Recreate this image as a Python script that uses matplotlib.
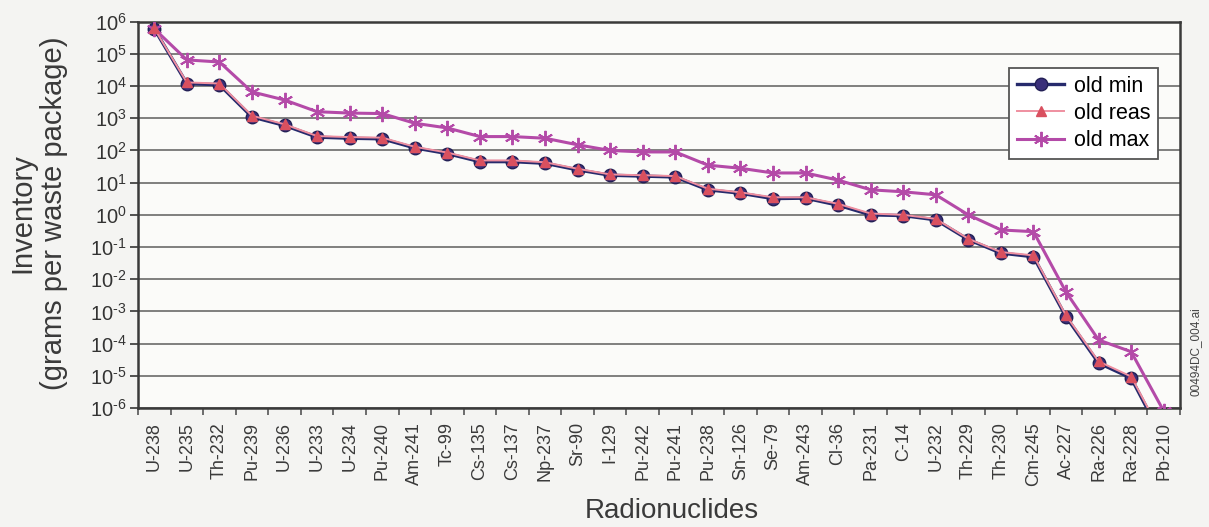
import numpy as np
import matplotlib
matplotlib.use("Agg")
import matplotlib.pyplot as plt
from matplotlib.ticker import FixedLocator, NullFormatter

plt.rcParams['font.family'] = ['Liberation Sans', 'DejaVu Sans']
plt.rcParams['mathtext.fontset'] = 'custom'
plt.rcParams['mathtext.rm'] = 'Liberation Sans'
plt.rcParams['mathtext.it'] = 'Liberation Sans'

nuclides = ["U-238", "U-235", "Th-232", "Pu-239", "U-236", "U-233", "U-234", "Pu-240",
            "Am-241", "Tc-99", "Cs-135", "Cs-137", "Np-237", "Sr-90", "I-129", "Pu-242",
            "Pu-241", "Pu-238", "Sn-126", "Se-79", "Am-243", "Cl-36", "Pa-231", "C-14",
            "U-232", "Th-229", "Th-230", "Cm-245", "Ac-227", "Ra-226", "Ra-228", "Pb-210"]

old_min = [6.0e5, 1.2e4, 1.1e4, 1.1e3, 6.0e2, 2.6e2, 2.4e2, 2.3e2,
           1.2e2, 8.0e1, 4.5e1, 4.5e1, 4.0e1, 2.5e1, 1.7e1, 1.6e1,
           1.5e1, 6.0, 4.7, 3.2, 3.3, 2.0, 1.0, 0.95,
           0.7, 0.17, 0.065, 0.05, 6.8e-4, 2.5e-5, 8.5e-6, 1.0e-7]

old_reas = [6.2e5, 1.3e4, 1.2e4, 1.2e3, 6.5e2, 2.8e2, 2.6e2, 2.5e2,
            1.3e2, 8.6e1, 4.9e1, 4.9e1, 4.3e1, 2.7e1, 1.8e1, 1.7e1,
            1.6e1, 6.5, 5.0, 3.5, 3.5, 2.2, 1.1, 1.0,
            0.75, 0.18, 0.07, 0.055, 7.5e-4, 2.8e-5, 9.5e-6, 1.2e-7]

old_max = [6.0e5, 6.5e4, 5.6e4, 6.6e3, 3.7e3, 1.6e3, 1.45e3, 1.4e3,
           7.0e2, 5.0e2, 2.7e2, 2.7e2, 2.4e2, 1.5e2, 1.0e2, 9.0e1,
           9.0e1, 3.5e1, 2.8e1, 2.0e1, 2.0e1, 1.2e1, 6.0, 5.2,
           4.2, 1.0, 0.34, 0.3, 4.0e-3, 1.3e-4, 5.6e-5, 8.0e-7]

ytick_exps = list(range(-6, 7))

W, H = 1209, 527
fig = plt.figure(figsize=(W/100, H/100), dpi=100)
fig.patch.set_facecolor('#f4f4f2')
ax = fig.add_axes([138/W, 1-408/H, (1180-138)/W, (408-21.7)/H])
ax.set_facecolor('#fbfbf9')

x = np.arange(len(nuclides))

ax.plot(x, old_min, color='#262a6c', lw=2.4, marker='o', ms=9,
        mfc='#3a2f7a', mec='#221f55', label='old min', zorder=3)
ax.plot(x, old_reas, color='#ef8fa0', lw=1.4, marker='^', ms=7.5,
        mfc='#d9505f', mec='#d9505f', label='old reas', zorder=4)
ax.plot(x, old_max, color='#b44aa8', lw=2.2, marker=(6, 2, 0), ms=11,
        mec='#b44aa8', mew=1.4, label='old max', zorder=3)

ax.set_yscale('log')
ax.set_ylim(1e-6, 1e6)
ax.set_xlim(-0.5, len(nuclides) - 0.5)

ax.yaxis.set_major_locator(FixedLocator([10.0**e for e in ytick_exps]))
ax.set_yticklabels([r'$10^{%s}$' % (str(e).replace('-', '\u2010')) for e in ytick_exps],
                   fontsize=14.5)
ax.yaxis.set_minor_locator(FixedLocator([]))
ax.yaxis.set_minor_formatter(NullFormatter())
ax.tick_params(axis='y', which='major', direction='out', length=6, width=1.3,
               color='#444444', labelcolor='#333333', pad=2)

ax.set_xticks(x)
ax.set_xticklabels(nuclides, rotation=90, fontsize=13, color='#3a3a3a')
ax.set_xticks(np.arange(len(nuclides) + 1) - 0.5, minor=True)
ax.tick_params(axis='x', which='major', length=0, pad=10)
ax.tick_params(axis='x', which='minor', direction='out', length=5, width=1.2, color='#555555')

ax.grid(axis='y', which='major', color='#6a6a6a', lw=1.2)
ax.set_axisbelow(True)
for s in ax.spines.values():
    s.set_color('#3a3a3a')
    s.set_linewidth(1.8)

fig.text(38/W, 1-213/H, 'Inventory\n(grams per waste package)', rotation=90,
         fontsize=21, color='#3a3a3a', ha='center', va='center', linespacing=1.15,
         multialignment='center')
fig.text(672/W, 1-511/H, 'Radionuclides', fontsize=20, color='#3a3a3a',
         ha='center', va='center')

leg = ax.legend(loc='upper right', bbox_to_anchor=((1158-138)/1042, (408-68)/386.3),
                fontsize=15.5, frameon=True, fancybox=False, handlelength=2.2,
                borderpad=0.35, labelspacing=0.3, handletextpad=0.45, borderaxespad=0)
leg.get_frame().set_edgecolor('#555555')
leg.get_frame().set_linewidth(1.3)
leg.get_frame().set_facecolor('#ffffff')
leg.get_frame().set_alpha(1)

fig.text(1196/W, 1-352/H, '00494DC_004.ai', rotation=90, fontsize=8.5,
         color='#444444', ha='center', va='center')

fig.savefig('out.png', dpi=100, facecolor=fig.get_facecolor())
